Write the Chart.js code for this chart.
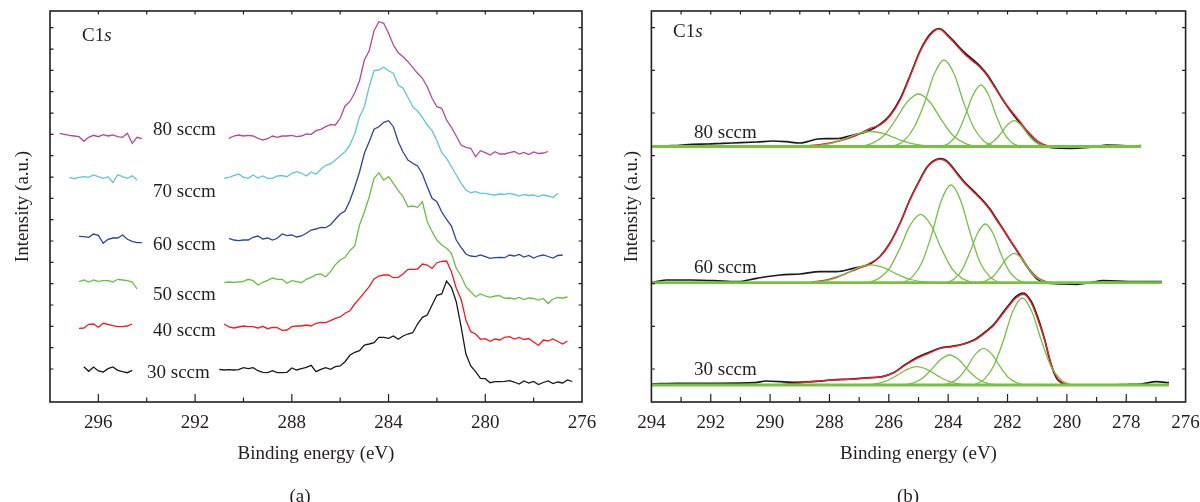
<!DOCTYPE html>
<html lang="en">
<head>
<meta charset="UTF-8">
<title>C1s spectra</title>
<script src="https://cdn.jsdelivr.net/npm/chart.js"></script>
<style>
    html, body { margin: 0; padding: 0; background: #fff; }
    body {
        width: 1200px; height: 502px; position: relative; overflow: hidden;
        font-family: "Liberation Serif", "DejaVu Serif", serif; color: #231f20;
    }
    canvas { position: absolute; top: 0; }
    #chartA { left: 0; }
    #chartB { left: 600px; }
    .note {
        position: absolute; font-size: 19px; line-height: 1; white-space: nowrap;
        transform: translateY(-50%);
    }
    .tag {
        position: absolute; top: 495px; font-size: 19px; line-height: 1;
        transform: translate(-50%, -50%);
    }
</style>
</head>
<body>
<canvas id="chartA" width="600" height="502"></canvas>
<canvas id="chartB" width="600" height="502"></canvas>
<div id="notes"></div>

<script>
    const INK = '#231f20';
    const SERIF = '"Liberation Serif", "DejaVu Serif", serif';

    // ---------- (a) raw spectra, stacked by flow rate ----------
    const flowsA = ['80 sccm', '70 sccm', '60 sccm', '50 sccm', '40 sccm', '30 sccm'];
    const colorsA = ['#b3489c', '#5ec6d7', '#2c4597', '#6cbd45', '#ec1c24', '#1a1a1a'];

    // survey region left of the label gap
    const energyLeftA = [297.6, 297.4, 297.2, 297.0, 296.8, 296.6, 296.4, 296.2, 296.0, 295.8,
        295.6, 295.4, 295.2, 295.0, 294.8, 294.6, 294.4, 294.2];
    const a80Left = [268.7, 267.7, 266.7, 266, 265.3, 260.7, 264.7, 266.7, 265.3, 267.3, 266, 267, 265.3, 264.7, 268.7, 258.7, 264.7, 263.3];
    const a70Left = [null, null, 224.7, 223.3, 224.7, 225.3, 224.7, 227, 225.3, 223.7, 225.3, 219.3, 227.3, 225.3, 223.7, 226.3, 222, null];
    const a60Left = [null, null, null, null, 165.7, 165.3, 164.7, 168, 166.7, 158.7, 162.7, 164, 164, 167, 162.7, 160.7, 159.3, 159.3];
    const a50Left = [null, null, null, null, 120.3, 122, 120, 122, 120.7, 121.3, 121.3, 120, 122.7, 122, 121.3, 120, 113, null];
    const a40Left = [null, null, null, null, 73.7, 74, 77.7, 78, 74.7, 78.7, 77.7, 76.3, 75.3, 75.3, 76, 78, null, null];
    const a30Left = [null, null, null, null, null, 35.3, 30.7, 35, 31, 30, 33.3, 35, 31.7, 30.3, 29.3, 31.7, null, null];

    // C1s window
    const energyRightA = [291.0, 290.8, 290.6, 290.4, 290.2, 290.0, 289.8, 289.6, 289.4, 289.2,
        289.0, 288.8, 288.6, 288.4, 288.2, 288.0, 287.8, 287.6, 287.4, 287.2,
        287.0, 286.8, 286.6, 286.4, 286.2, 286.0, 285.8, 285.6, 285.4, 285.2,
        285.0, 284.8, 284.6, 284.4, 284.2, 284.0, 283.8, 283.6, 283.4, 283.2,
        283.0, 282.8, 282.6, 282.4, 282.2, 282.0, 281.8, 281.6, 281.4, 281.2,
        281.0, 280.8, 280.6, 280.4, 280.2, 280.0, 279.8, 279.6, 279.4, 279.2,
        279.0, 278.8, 278.6, 278.4, 278.2, 278.0, 277.8, 277.6, 277.4, 277.2,
        277.0, 276.8, 276.6, 276.4];
    const a80Right = [null, null, 263.7, 266, 267, 266, 266.7, 266, 263.7, 262,
        263.3, 266, 264.7, 266, 266, 266.7, 265.3, 266, 268, 267.7,
        271.3, 272.7, 275.3, 277.3, 277, 283.7, 296, 300.3, 309.3, 321.3,
        342, 351.3, 371.3, 380.3, 378.7, 368.7, 357, 349.3, 345.3, 340.3,
        334.7, 328.7, 323.7, 315.3, 303.7, 295.3, 293.7, 282, 274.7, 266,
        257, 254.7, 253.7, 245.3, 251.3, 249.3, 247, 250.3, 248, 248,
        249.3, 250.5, 248, 249.5, 247.5, 250, 248.5, 249, 250.5, null,
        null, null, null, null];
    const a70Right = [null, 223.7, 224.7, 226.3, 228, 224.7, 223.7, 227, 224, 226,
        223.7, 223.7, 226, 226.3, 225.3, 228.7, 230.3, 228.7, 226, 230,
        227.7, 232.7, 236.7, 238, 242, 246, 250.3, 257, 268, 285.3,
        295.3, 315.3, 331.3, 332, 334.7, 331.3, 328.7, 317, 313.7, 304.7,
        295.3, 291, 284.7, 277, 271.3, 261.3, 249.3, 243.7, 235.3, 227,
        218.7, 212, 209.3, 210.3, 208.7, 208.7, 207.7, 207, 208, 207.7,
        208.7, 207.5, 206, 207.5, 206.5, 207, 205.5, 207, 206, 204.5,
        208.5, null, null, null];
    const a60Right = [null, null, 163.7, 162, 161.3, 162, 162, 164.7, 166, 163,
        164, 162, 163.7, 168, 166.3, 167, 165, 166, 168.7, 172,
        173, 174.7, 174.3, 177.3, 182.7, 188, 191, 201.3, 214.7, 230,
        248.7, 260.3, 272.7, 275.3, 279.7, 281.3, 275.3, 260.3, 250, 242,
        238.7, 236, 228, 215.3, 203.7, 200.3, 190, 182.7, 176, 162,
        154.7, 148, 146, 145.3, 147, 145.3, 143.7, 144.3, 144.7, 144.3,
        147, 146, 147.5, 145, 146.5, 144, 146, 147, 145.5, 144,
        146.5, 147, null, null];
    const a50Right = [null, 119.3, 120, 119.7, 120, 120.7, 122.7, 121.3, 117, 119.7,
        121.7, 124, 122.7, 122.7, 118.7, 121.3, 120.3, 119.3, 122.7, 124.7,
        127.3, 128, 125.3, 130.3, 137.3, 142, 144.7, 151.3, 156, 177,
        190, 205, 223.7, 229.3, 222, 225.3, 218.7, 211.3, 205.3, 195.3,
        196, 194.7, 200.3, 180.3, 170.3, 162, 157, 153.7, 148.7, 133.7,
        126, 115.3, 110.3, 105.3, 108, 106, 104.7, 106, 106.3, 103.7,
        104, 103, 104.5, 102.5, 104, 103.5, 102, 103.5, 98.5, 103,
        104.5, 104, 105, null];
    const a40Right = [null, 78, 75, 74, 75, 76, 75.3, 75.3, 74, 75.7,
        73.3, 74.7, 74.3, 71.7, 72, 75.3, 76, 76, 77, 76,
        78.7, 79.7, 79.3, 81.3, 83.7, 85, 88.7, 91.3, 98, 103.7,
        109.3, 115.3, 123, 126, 127, 127, 124.3, 124.7, 128, 132.7,
        132.7, 133, 138, 137, 133.7, 139.3, 140.7, 141, 130.3, 113.7,
        102.7, 82, 70.3, 68, 62.7, 63.3, 60.7, 63, 62, 64.7,
        65.3, 63, 64.5, 62.5, 63.5, 60, 56.5, 62, 61, 63,
        60.5, 58, 61, null];
    const a30Right = [32.7, 32, 32.3, 32, 32.3, 34.3, 33.3, 34.3, 31.3, 29.7,
        29.3, 31.3, 29.3, 29.3, 29.7, 34, 32, 33.3, 34.7, 36.7,
        30.3, 32.7, 34.3, 32.7, 35.3, 36, 40.3, 46.7, 49.7, 51.3,
        57, 58, 59.3, 64.7, 64.7, 63.7, 66, 62.7, 66, 68,
        69.3, 78, 84.7, 87, 97, 106.7, 108, 121, 114.7, 100.3,
        75.3, 48, 36, 30.3, 23.7, 23.3, 19.3, 20.3, 20.3, 20.7,
        21.3, 20, 18, 21, 19, 20.5, 17.5, 19.5, 21, 18.5,
        20, 19, 22, 20.5];

    const leftA = [a80Left, a70Left, a60Left, a50Left, a40Left, a30Left];
    const rightA = [a80Right, a70Right, a60Right, a50Right, a40Right, a30Right];

    // ---------- (b) measured spectra with fitted components ----------
    const flowsB = ['80 sccm', '60 sccm', '30 sccm'];

    const b80Raw = [[294.0, 256], [293.3, 256.3], [292.6, 257.7], [292.1, 258], [291.6, 258.7], [291.0, 259.3],
        [290.45, 260], [289.9, 261], [289.45, 260.3], [289.0, 259], [288.75, 260.3], [288.4, 263],
        [288.1, 263.3], [287.7, 263.5], [287.2, 267], [286.75, 270.3], [286.3, 277.5], [285.96, 287],
        [285.62, 303], [285.29, 326], [284.95, 351], [284.73, 363], [284.5, 371], [284.33, 373.5],
        [284.22, 372.5], [284.05, 368], [283.83, 361.5], [283.6, 354], [283.38, 347.5], [283.15, 342],
        [282.93, 336], [282.7, 328], [282.48, 318], [282.26, 307], [282.03, 296.5], [281.81, 287.5],
        [281.58, 279], [281.36, 270.5], [281.13, 262.5], [280.9, 257.5], [280.68, 255], [280.35, 254],
        [279.9, 253.7], [279.45, 254.3], [279.0, 255.3], [278.66, 257], [278.3, 256.7], [277.9, 256], [277.5, 256.3]];
    const b80Fit = [[288.8, 256], [288.3, 257.5], [287.9, 259.5], [287.5, 262.5], [287.1, 266.5], [286.64, 273.7],
        [286.3, 277], [285.96, 286], [285.62, 302], [285.29, 325.3], [284.95, 350.3], [284.73, 362],
        [284.5, 370.3], [284.33, 373], [284.22, 372], [284.05, 367], [283.83, 360.3], [283.6, 352.7],
        [283.38, 346], [283.15, 340.3], [282.93, 334.7], [282.7, 327], [282.48, 317], [282.26, 307],
        [282.03, 297], [281.81, 288.7], [281.58, 280.3], [281.36, 272], [281.13, 264.7], [280.91, 259.3],
        [280.68, 256.5], [280.35, 255.6], [280.0, 255.5]];
    const b80Base = [[294.0, 255.5], [277.5, 255.5]];
    const b80Peak1 = [[288.85, 255.5], [288.4, 256.4], [287.95, 258.7], [287.5, 263], [287.05, 268.1], [286.6, 270.5],
        [286.15, 268.1], [285.7, 263], [285.25, 258.7], [284.8, 256.4], [284.35, 255.5]];
    const b80Peak2 = [[286.94, 255.5], [286.55, 258.8], [286.16, 266.5], [285.78, 281.8], [285.39, 299.7], [285.0, 308],
        [284.61, 299.7], [284.22, 281.8], [283.84, 266.5], [283.45, 258.8], [283.06, 255.5]];
    const b80Peak3 = [[285.85, 255.5], [285.5, 261], [285.15, 274.5], [284.8, 298.7], [284.47, 328], [284.14, 342],
        [283.8, 328], [283.47, 298.7], [283.14, 274.5], [282.8, 261], [282.45, 255.5]];
    const b80Peak4 = [[284.21, 255.5], [283.95, 259.3], [283.69, 268.4], [283.43, 286.3], [283.16, 307.2], [282.9, 317],
        [282.64, 307.2], [282.38, 286.3], [282.11, 268.4], [281.85, 259.3], [281.59, 255.5]];
    const b80Peak5 = [[282.9, 255.5], [282.68, 257.1], [282.46, 260.9], [282.23, 268.4], [282.0, 277.2], [281.78, 281.3],
        [281.56, 277.2], [281.33, 268.4], [281.1, 260.9], [280.88, 257.1], [280.66, 255.5]];

    const b60Raw = [[294.0, 119.3], [293.5, 122], [292.7, 122], [291.9, 121.3], [291.1, 120.3], [290.45, 123.7],
        [289.67, 127], [289.0, 128], [288.32, 130.3], [287.76, 130.3], [287.2, 133.7], [286.63, 138],
        [286.3, 145.5], [285.96, 159], [285.62, 179], [285.29, 202.5], [284.95, 222.5], [284.73, 234.3],
        [284.5, 241], [284.28, 243.5], [284.11, 242.3], [283.94, 238], [283.72, 229.7], [283.49, 221.3],
        [283.27, 214.7], [283.04, 208], [282.82, 201.3], [282.59, 193], [282.37, 183], [282.14, 172.5],
        [281.92, 162], [281.69, 151.5], [281.47, 141], [281.24, 131], [281.02, 123.5], [280.8, 119.8],
        [280.51, 118.5], [280.12, 118], [279.67, 117.7], [279.22, 119.3], [278.77, 121.3], [278.3, 121],
        [277.8, 120.3], [277.3, 120.5], [276.8, 120.3]];
    const b60Fit = [[288.6, 119.8], [288.1, 122], [287.65, 126], [287.2, 131.5], [286.64, 138.7], [286.3, 145.3],
        [285.96, 158.7], [285.62, 178.7], [285.29, 202], [284.95, 222], [284.73, 233.7], [284.5, 240.3],
        [284.28, 242.7], [284.11, 241.3], [283.94, 237], [283.72, 228.7], [283.49, 220.3], [283.27, 213.7],
        [283.04, 207], [282.82, 200.3], [282.59, 192], [282.37, 182], [282.14, 172], [281.92, 162],
        [281.69, 152], [281.47, 142], [281.24, 132], [281.02, 125.3], [280.8, 121.3], [280.57, 119.6], [280.2, 119.3]];
    const b60Base = [[294.0, 119.3], [276.8, 119.3]];
    const b60Peak1 = [[288.73, 119.3], [288.3, 120.4], [287.88, 123], [287.45, 128.2], [287.03, 134.3], [286.6, 137.1],
        [286.18, 134.3], [285.75, 128.2], [285.33, 123], [284.9, 120.4], [284.48, 119.3]];
    const b60Peak2 = [[286.68, 119.3], [286.33, 123.6], [285.98, 133.7], [285.63, 153.5], [285.28, 176.8], [284.93, 187.7],
        [284.58, 176.8], [284.23, 153.5], [283.88, 133.7], [283.53, 123.6], [283.18, 119.3]];
    const b60Peak3 = [[285.53, 119.3], [285.2, 125.4], [284.88, 139.8], [284.55, 168.2], [284.23, 201.5], [283.9, 217],
        [283.58, 201.5], [283.25, 168.2], [282.93, 139.8], [282.6, 125.4], [282.28, 119.3]];
    const b60Peak4 = [[284.06, 119.3], [283.8, 123], [283.54, 131.6], [283.28, 148.7], [283.01, 168.7], [282.75, 178],
        [282.49, 168.7], [282.23, 148.7], [281.96, 131.6], [281.7, 123], [281.44, 119.3]];
    const b60Peak5 = [[282.97, 119.3], [282.73, 121.1], [282.49, 125.5], [282.26, 134], [282.02, 144], [281.78, 148.7],
        [281.54, 144], [281.31, 134], [281.07, 125.5], [280.83, 121.1], [280.59, 119.3]];

    const b30Raw = [[294.0, 18], [293.1, 18.7], [291.8, 18.7], [290.5, 19.3], [290.15, 21], [289.2, 19.7],
        [288.57, 20.3], [287.92, 22], [287.27, 23], [286.62, 24.3], [286.22, 25.3], [285.83, 29.5],
        [285.44, 37.5], [285.05, 44.5], [284.66, 49.5], [284.27, 54], [283.88, 55.7], [283.49, 58],
        [283.1, 62.5], [282.71, 71], [282.45, 78], [282.19, 88], [281.93, 98], [281.73, 105],
        [281.47, 109], [281.2, 100.5], [280.95, 82], [280.75, 62.5], [280.55, 39], [280.35, 24],
        [280.15, 18.5], [279.95, 16.8], [279.45, 17], [278.8, 17], [278.0, 17.5], [277.5, 18],
        [276.98, 20.3], [276.56, 19.3]];
    const b30Fit = [[289.6, 17.5], [289.0, 19], [288.57, 20.5], [287.92, 22], [287.27, 22.7], [286.62, 24.3],
        [286.22, 25.3], [285.83, 29.3], [285.44, 37], [285.05, 43.7], [284.66, 48.7], [284.27, 53.7],
        [283.88, 55.3], [283.49, 57.7], [283.1, 62], [282.71, 70.3], [282.45, 77], [282.19, 87],
        [281.93, 97], [281.73, 103.7], [281.47, 107.7], [281.2, 99], [280.95, 80], [280.75, 62],
        [280.55, 40], [280.35, 25], [280.15, 19.5], [279.95, 17.5], [279.6, 17]];
    const b30Base = [[294.0, 17], [276.56, 17]];
    const b30Peak2 = [[286.8, 17], [286.45, 18.1], [286.1, 20.8], [285.75, 26.15], [285.4, 32.4], [285.05, 35.3],
        [284.7, 32.4], [284.35, 26.15], [284.0, 20.8], [283.65, 18.1], [283.3, 17]];
    const b30Peak3 = [[285.51, 17], [285.2, 18.9], [284.89, 23.3], [284.58, 32], [284.26, 42.2], [283.95, 47],
        [283.64, 42.2], [283.33, 32], [283.01, 23.3], [282.7, 18.9], [282.39, 17]];
    const b30Peak4 = [[284.18, 17], [283.9, 19.3], [283.63, 24.7], [283.35, 35.35], [283.08, 47.9], [282.8, 53.7],
        [282.53, 47.9], [282.25, 35.35], [281.98, 24.7], [281.7, 19.3], [281.43, 17]];
    const b30Peak5 = [[283.13, 17], [282.8, 22.4], [282.48, 35.3], [282.15, 60.5], [281.83, 90.2], [281.5, 104],
        [281.18, 90.2], [280.85, 60.5], [280.53, 35.3], [280.2, 22.4], [279.88, 17]];

    const spectraB = [
        { raw: b80Raw, fit: b80Fit, base: b80Base, peaks: [b80Peak1, b80Peak2, b80Peak3, b80Peak4, b80Peak5] },
        { raw: b60Raw, fit: b60Fit, base: b60Base, peaks: [b60Peak1, b60Peak2, b60Peak3, b60Peak4, b60Peak5] },
        { raw: b30Raw, fit: b30Fit, base: b30Base, peaks: [b30Peak2, b30Peak3, b30Peak4, b30Peak5] }
    ];

    // ---------- helpers ----------
    const zip = (xs, ys) => xs.map((x, i) => ({ x, y: ys[i] }));
    const pairs = list => list.map(([x, y]) => ({ x, y }));

    // frame, inward tick marks on all four sides
    const framePlugin = {
        id: 'frame',
        afterDatasetsDraw(chart, args, opts) {
            const { ctx, chartArea: area, scales } = chart;
            const x = scales.x, y = scales.y;
            ctx.save();
            ctx.strokeStyle = INK;
            ctx.lineWidth = 1.2;
            ctx.beginPath();
            opts.major.forEach(v => {
                const px = x.getPixelForValue(v);
                ctx.moveTo(px, area.bottom); ctx.lineTo(px, area.bottom - 8);
            });
            opts.minor.forEach(v => {
                const px = x.getPixelForValue(v);
                ctx.moveTo(px, area.bottom); ctx.lineTo(px, area.bottom - opts.minorLen);
            });
            opts.top.forEach(v => {
                const px = x.getPixelForValue(v);
                ctx.moveTo(px, area.top); ctx.lineTo(px, area.top + 3.5);
            });
            opts.side.forEach(v => {
                const py = y.getPixelForValue(v);
                ctx.moveTo(area.left, py); ctx.lineTo(area.left + 3.5, py);
                ctx.moveTo(area.right, py); ctx.lineTo(area.right - 3.5, py);
            });
            ctx.stroke();
            ctx.lineWidth = 1.6;
            ctx.strokeRect(area.left, area.top, area.right - area.left, area.bottom - area.top);
            ctx.restore();
        }
    };

    function chartOptions(cfg) {
        return {
            responsive: false,
            animation: false,
            events: [],
            devicePixelRatio: 1,
            layout: { padding: cfg.padding },
            plugins: { legend: { display: false }, tooltip: { enabled: false }, frame: cfg.frame },
            elements: { point: { radius: 0 } },
            scales: {
                x: {
                    type: 'linear', reverse: true, min: cfg.xMin, max: cfg.xMax,
                    grid: { display: false, drawTicks: false },
                    border: { display: false },
                    ticks: {
                        stepSize: cfg.xStep, includeBounds: false, autoSkip: false, maxRotation: 0,
                        color: INK, font: { family: SERIF, size: 19 }, padding: 10
                    },
                    title: {
                        display: true, text: 'Binding energy (eV)', color: INK,
                        font: { family: SERIF, size: 19 }, padding: { top: 0, bottom: 36.6 }
                    },
                    afterFit(scale) { scale.height = 100; scale.paddingLeft = 0; scale.paddingRight = 0; }
                },
                y: {
                    type: 'linear', min: 0, max: 391,
                    grid: { display: false, drawTicks: false },
                    border: { display: false },
                    ticks: { display: false },
                    title: {
                        display: true, text: 'Intensity (a.u.)', color: INK,
                        font: { family: SERIF, size: 19 }, padding: { top: cfg.yTitlePad, bottom: 0 }
                    },
                    afterFit(scale) { scale.width = cfg.yWidth; scale.paddingTop = 0; scale.paddingBottom = 0; }
                }
            }
        };
    }

    // ---------- chart (a) ----------
    const datasetsA = [];
    flowsA.forEach((name, i) => {
        [leftA[i], rightA[i]].forEach((values, k) => {
            datasetsA.push({
                label: name,
                data: zip(k === 0 ? energyLeftA : energyRightA, values),
                borderColor: colorsA[i], borderWidth: 1.3, tension: 0, spanGaps: false, fill: false
            });
        });
    });

    const sideTicksA = [];
    for (let v = 33; v < 390; v += 21.33) sideTicksA.push(v);

    new Chart(document.getElementById('chartA'), {
        type: 'line',
        data: { datasets: datasetsA },
        options: chartOptions({
            xMin: 276, xMax: 298, xStep: 4,
            padding: { top: 11, right: 18, bottom: 0, left: 0 },
            yWidth: 50, yTitlePad: 11.6,
            frame: {
                major: [296, 292, 288, 284, 280],
                minor: [294, 290, 286, 282, 278],
                minorLen: 4.5,
                top: [296, 294, 292, 290, 288, 286, 284, 282, 280, 278],
                side: sideTicksA
            }
        }),
        plugins: [framePlugin]
    });

    // ---------- chart (b) ----------
    const RAW = '#1a1a1a', FIT = '#e8202a', PEAK = '#78c044';
    const layersB = [];
    spectraB.forEach((s, i) => {
        const name = flowsB[i];
        layersB.push({ label: name + ' raw', data: pairs(s.raw), borderColor: RAW, borderWidth: 1.7 });
        layersB.push({ label: name + ' fit', data: pairs(s.fit), borderColor: FIT, borderWidth: 1.4 });
        s.peaks.forEach((p, j) => {
            layersB.push({ label: name + ' peak ' + (j + 1), data: pairs(p), borderColor: PEAK, borderWidth: 1.3 });
        });
        layersB.push({ label: name + ' background', data: pairs(s.base), borderColor: PEAK, borderWidth: 2.8 });
    });
    layersB.forEach(d => { d.cubicInterpolationMode = 'monotone'; d.fill = false; });
    // earlier entries are painted last in Chart.js, so reverse the painter's order
    layersB.reverse();

    const sideTicksB = [];
    for (let v = 33; v < 390; v += 42.67) sideTicksB.push(v);

    new Chart(document.getElementById('chartB'), {
        type: 'line',
        data: { datasets: layersB },
        options: chartOptions({
            xMin: 276, xMax: 294, xStep: 2,
            padding: { top: 11, right: 14.4, bottom: 0, left: 0 },
            yWidth: 51.4, yTitlePad: 20.6,
            frame: {
                major: [292, 290, 288, 286, 284, 282, 280, 278],
                minor: [293, 291, 289, 287, 285, 283, 281, 279, 277],
                minorLen: 5,
                top: [293, 292, 291, 290, 289, 288, 287, 286, 285, 284, 283, 282, 281, 280, 279, 278, 277],
                side: sideTicksB
            }
        }),
        plugins: [framePlugin]
    });

    // ---------- annotations ----------
    const notes = document.getElementById('notes');
    function note(html, left, top, cls) {
        const el = document.createElement('div');
        el.className = cls || 'note';
        el.innerHTML = html;
        el.style.left = left + 'px';
        el.style.top = top + 'px';
        notes.appendChild(el);
    }
    note('C1<i>s</i>', 82, 34);
    note('C1<i>s</i>', 673, 30);
    const labelRowsA = [128, 190, 243, 293, 329, 371];
    flowsA.forEach((name, i) => note(name, i === 5 ? 147 : 153, labelRowsA[i]));
    const labelRowsB = [131, 266, 368];
    flowsB.forEach((name, i) => note(name, 694, labelRowsB[i]));
    note('(a)', 300, 495, 'tag');
    note('(b)', 908, 495, 'tag');
</script>
</body>
</html>
